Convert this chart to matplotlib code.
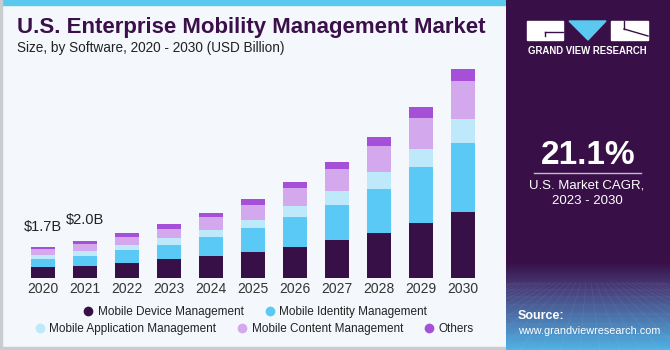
import numpy as np
import matplotlib
matplotlib.use("Agg")
import matplotlib.pyplot as plt
from matplotlib.patches import Rectangle, Polygon
from matplotlib.lines import Line2D

plt.rcParams['font.family'] = ['Liberation Sans', 'DejaVu Sans']

# data (USD billion)
years = ['2020', '2021', '2022', '2023', '2024', '2025', '2026', '2027', '2028', '2029', '2030']
device = [0.59, 0.68, 0.84, 1.04, 1.22, 1.44, 1.71, 2.05, 2.46, 2.97, 3.58]
identity = [0.43, 0.54, 0.69, 0.76, 1.03, 1.26, 1.59, 1.91, 2.35, 3.03, 3.75]
application = [0.22, 0.25, 0.27, 0.39, 0.38, 0.45, 0.61, 0.77, 0.95, 0.99, 1.26]
content = [0.32, 0.38, 0.45, 0.49, 0.70, 0.81, 0.96, 1.16, 1.39, 1.69, 2.09]
others = [0.11, 0.16, 0.18, 0.25, 0.20, 0.34, 0.32, 0.38, 0.47, 0.59, 0.62]
labels = ['Mobile Device Management', 'Mobile Identity Management',
          'Mobile Application Management', 'Mobile Content Management', 'Others']
colors = ['#371047', '#5BC9F5', '#BDE9FA', '#D4A8EC', '#A64FD8']
callouts = {0: '$1.7B', 1: '$2.0B'}

W, H = 670, 350
fig = plt.figure(figsize=(W / 100, H / 100), dpi=100)
fig.patch.set_facecolor('#F4F8FC')


def fx(x):
    return x / W


def fy(y):
    return 1 - y / H


# frame bits of the left panel
fig.add_artist(Rectangle((0, fy(5)), fx(506), 5 / H, transform=fig.transFigure,
                         color='#5BC8F0', zorder=0))
fig.add_artist(Rectangle((0, 0), fx(506), 3 / H, transform=fig.transFigure,
                         color='#C9CCD0', zorder=0))
fig.add_artist(Rectangle((0, 0), 2 / W, 1, transform=fig.transFigure,
                         color='#C9CCD0', zorder=0))

# title
fig.text(fx(17), fy(28), 'U.S. Enterprise Mobility Management Market', fontsize=16,
         fontweight='bold', color='#3B0F4A', va='center', ha='left')
fig.text(fx(17), fy(48), 'Size, by Software, 2020 - 2030 (USD Billion)', fontsize=9.8,
         color='#222222', va='center', ha='left')

# chart axes
ppu = 41.97
scale = 18.5
ax_l, ax_r = 10, 496
base, top = 278.3, 60
ax = fig.add_axes([fx(ax_l), fy(base), (ax_r - ax_l) / W, (base - top) / H])
ax.set_facecolor('none')
x0 = -(43 - ax_l) / ppu
ax.set_xlim(x0, x0 + (ax_r - ax_l) / ppu)
ax.set_ylim(0, (base - top) / scale)

x = np.arange(len(years))
bottom = np.zeros(len(years))
for vals, c, lab in zip([device, identity, application, content, others], colors, labels):
    ax.bar(x, vals, 0.58, bottom=bottom, color=c, label=lab, edgecolor='none')
    bottom += np.array(vals)

for i, txt in callouts.items():
    ax.annotate(txt, (x[i], bottom[i]), xytext=(0, 10), textcoords='offset points',
                ha='center', va='bottom', fontsize=10.5, color='#222222')

ax.set_xticks(x)
ax.set_xticklabels(years, fontsize=10, color='#333333')
ax.tick_params(axis='x', length=0, pad=3)
ax.set_yticks([])
for s in ax.spines.values():
    s.set_visible(False)

# legend in two rows
handles = [Line2D([], [], marker='o', ls='none', markersize=7, markerfacecolor=c,
                  markeredgecolor='none', label=l) for c, l in zip(colors, labels)]
leg1 = fig.legend(handles=handles[:2], loc='center', bbox_to_anchor=(fx(254), fy(312)),
                  ncol=2, frameon=False, fontsize=8.5, handletextpad=0.2, columnspacing=1.6,
                  handlelength=1.2, borderaxespad=0)
leg2 = fig.legend(handles=handles[2:], loc='center', bbox_to_anchor=(fx(253), fy(329)),
                  ncol=3, frameon=False, fontsize=8.5, handletextpad=0.2, columnspacing=1.6,
                  handlelength=1.2, borderaxespad=0)
for lg in (leg1, leg2):
    for t in lg.get_texts():
        t.set_color('#222222')

# right panel
pan = fig.add_axes([fx(506), 0, 1 - fx(506), 1])
pan.set_xlim(506, 670)
pan.set_ylim(350, 0)
pan.axis('off')
grad = np.zeros((350, 1, 3))
dark = np.array([0x38, 0x10, 0x47]) / 255
mid = np.array([0x48, 0x3E, 0x7A]) / 255
light = np.array([0x4F, 0xB4, 0xE6]) / 255
for r in range(350):
    if r < 262:
        grad[r, 0] = dark
    elif r < 288:
        t = (r - 262) / 26
        grad[r, 0] = dark * (1 - t) + mid * t
    else:
        t = (r - 288) / 62
        grad[r, 0] = mid * (1 - t) + light * t
pan.imshow(grad, extent=(506, 670, 350, 0), aspect='auto', zorder=0)
# faint perspective grid at the bottom
for k in np.linspace(300, 880, 30):
    pan.plot([588 + (k - 588) * 0.25, k], [282, 350], color='white', lw=0.3, alpha=0.12, zorder=1)
for yy in [284, 290, 297, 305, 314, 324, 336, 349]:
    pan.plot([506, 670], [yy, yy], color='white', lw=0.3, alpha=0.12, zorder=1)

# logo
pan.add_patch(Rectangle((527, 21), 36, 19, color='white', zorder=2))
pan.plot([545, 563], [31.5, 31.5], color='#381047', lw=1, zorder=3)
pan.plot([545, 545], [31.5, 36], color='#381047', lw=1, zorder=3)
pan.add_patch(Polygon([(569, 21), (606, 21), (588, 40)], closed=True, color='#5BC8F0', zorder=2))
pan.add_patch(Rectangle((611, 21), 37, 19, color='white', zorder=2))
pan.plot([624, 648], [29, 36], color='#381047', lw=1, zorder=3)
pan.plot([624, 624], [21, 29], color='#381047', lw=1, zorder=3)
pan.text(587, 51, 'GRAND VIEW RESEARCH', color='white', fontsize=6.9, fontweight='bold',
         ha='center', va='center', zorder=3)

pan.text(588, 155, '21.1%', color='white', fontsize=24, fontweight='bold',
         ha='center', va='center', zorder=3)
pan.plot([534, 641], [173.3, 173.3], color='#C9B8D8', lw=1, zorder=3)
pan.text(587, 186, 'U.S. Market CAGR,', color='white', fontsize=9.5,
         ha='center', va='center', zorder=3)
pan.text(587, 201, '2023 - 2030', color='white', fontsize=9.5,
         ha='center', va='center', zorder=3)
pan.text(518, 316, 'Source:', color='white', fontsize=9, fontweight='bold',
         ha='left', va='center', zorder=3)
pan.text(518, 331, 'www.grandviewresearch.com', color='white', fontsize=7.8,
         ha='left', va='center', zorder=3)

fig.savefig('out.png', dpi=100, facecolor=fig.get_facecolor())
